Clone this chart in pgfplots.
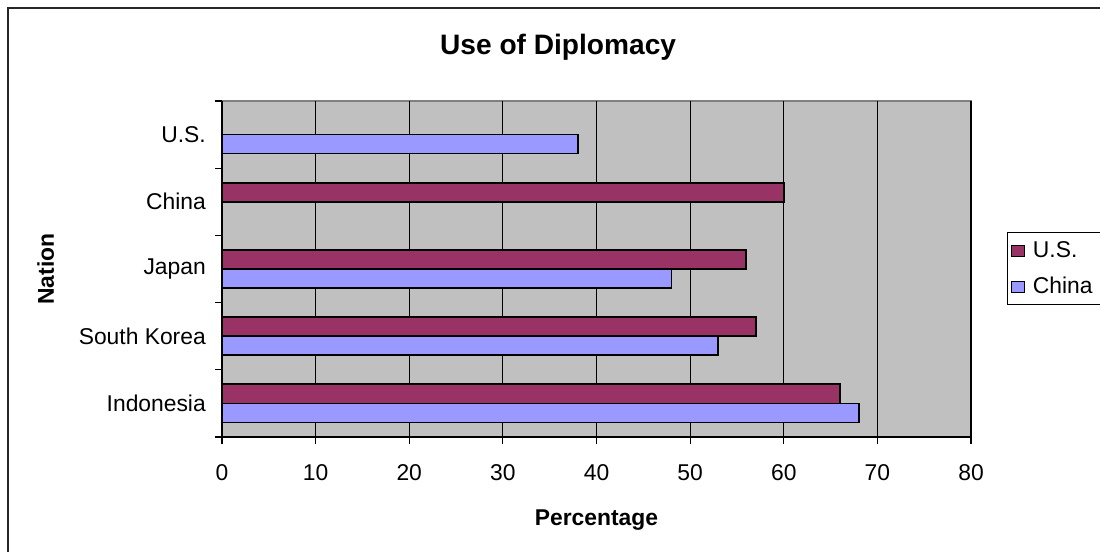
\documentclass[border=0pt]{standalone}
\usepackage{pgfplots}
\pgfplotsset{compat=1.18}
\usepackage{fontspec}
\setmainfont{Liberation Sans}

\definecolor{usmaroon}{HTML}{993366}
\definecolor{cnblue}{HTML}{9999FF}
\definecolor{plotbg}{HTML}{C0C0C0}
\definecolor{frameline}{HTML}{808080}

% Survey results (percentage), categories numbered bottom to top
\pgfplotstableread{
y  val
0  66
1  57
2  56
3  60
}\usdata
\pgfplotstableread{
y  val
0  68
1  53
2  48
4  38
}\cndata

\begin{document}
\begin{tikzpicture}
  \useasboundingbox (0,0) rectangle (22cm,-11.04cm);
  \clip (0,0) rectangle (22cm,-11.04cm);
  \begin{scope}[x=0.02cm,y=-0.02cm]
    % chart frame
    \draw[line width=0.9pt,black!85] (8,8) rectangle (1120,570);
    \node[font=\fontsize{16}{19}\selectfont\bfseries] at (558,47) {Use of Diplomacy};
  \end{scope}
  \begin{axis}[
    at={(4.44cm,-2.02cm)}, anchor=north west,
    scale only axis, width=14.98cm, height=6.72cm,
    xbar, bar width=0.283,
    xmin=0, xmax=80, ymin=-0.5, ymax=4.5,
    xtick={0,10,...,80},
    ytick={-0.5,0.5,...,4.5},
    yticklabels={},
    extra y ticks={0,1,2,3,4},
    extra y tick labels={Indonesia,South Korea,Japan,China,U.S.},
    extra y tick style={major tick length=0pt},
    major tick length=0.15cm,
    tick style={black, line width=0.6pt},
    tick align=outside,
    tick pos=left,
    axis background/.style={fill=plotbg, draw=frameline, line width=0.8pt},
    axis x line*=bottom, axis y line*=left,
    axis line style={-, black, line width=0.8pt},
    xmajorgrids, major grid style={black, line width=0.7pt},
    /pgf/number format/assume math mode=true,
    tick label style={font=\fontsize{13}{15.6}\selectfont},
    xticklabel style={yshift=-0.28cm},
    yticklabel style={xshift=-0.2cm},
    xlabel={\bfseries Percentage},
    ylabel={\bfseries Nation},
    label style={font=\fontsize{13}{15.6}\selectfont},
    xlabel style={yshift=-0.34cm},
    ylabel style={yshift=0.1cm},
    legend style={at={(1.048,0.610)}, anchor=north west,
      draw=black, line width=0.6pt, font=\fontsize{13}{15.6}\selectfont,
      inner xsep=2pt, inner ysep=3pt, row sep=0.2cm,
      nodes={anchor=west, text width=2.0cm}},
    legend cell align=left,
    legend image code/.code={%
      \draw[#1, line width=0.6pt] (0.08cm,-0.11cm) rectangle (0.34cm,0.11cm);
      \path (0.42cm,0);},
  ]
    \addplot[fill=usmaroon, draw=black, line width=1pt, bar shift=0.1415] table[x=val,y=y] {\usdata};
    \addlegendentry{U.S.}
    \addplot[fill=cnblue, draw=black, line width=1pt, bar shift=-0.1415] table[x=val,y=y] {\cndata};
    \addlegendentry{China}
  \end{axis}
\end{tikzpicture}
\end{document}
